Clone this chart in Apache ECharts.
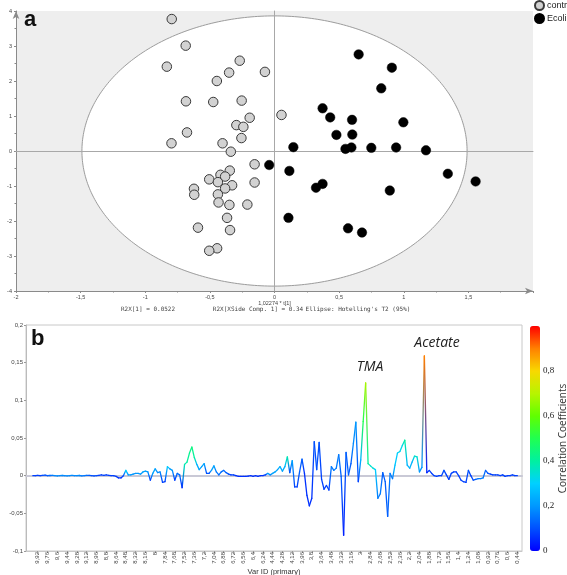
<!DOCTYPE html>
<html><head><meta charset="utf-8">
<script src="https://cdn.jsdelivr.net/npm/echarts@6/dist/echarts.min.js"></script>
<style>html,body{margin:0;padding:0;background:#fff}#c{width:567px;height:575px}</style>
</head><body><div id="c"></div><script>
// ---------- Panel a: score plot ----------
const controlPoints = [
 [-0.795,3.77],[-0.687,3.01],[-0.833,2.41],[-0.269,2.58],[-0.351,2.24],[-0.074,2.26],[-0.446,2.00],
 [-0.685,1.42],[-0.474,1.40],[-0.254,1.44],[0.054,1.03],[-0.192,0.95],[-0.295,0.74],[-0.241,0.69],
 [-0.677,0.53],[-0.256,0.37],[-0.797,0.22],[-0.402,0.22],[-0.338,-0.02],[-0.154,-0.38],[-0.346,-0.56],
 [-0.418,-0.68],[-0.382,-0.73],[-0.505,-0.81],[-0.438,-0.89],[-0.154,-0.90],[-0.328,-0.98],[-0.382,-1.07],
 [-0.623,-1.08],[-0.621,-1.25],[-0.438,-1.24],[-0.433,-1.47],[-0.349,-1.54],[-0.210,-1.53],[-0.367,-1.91],
 [-0.592,-2.19],[-0.344,-2.26],[-0.444,-2.78],[-0.505,-2.85]
];
const ecoliPoints = [
 [0.651,2.76],[0.908,2.38],[0.826,1.79],[0.372,1.22],[0.431,0.96],[0.600,0.89],[0.997,0.82],
 [0.479,0.46],[0.602,0.47],[0.146,0.11],[0.549,0.06],[0.595,0.10],[0.749,0.09],[0.941,0.10],
 [1.172,0.02],[-0.041,-0.40],[0.115,-0.57],[1.341,-0.65],[1.556,-0.87],[0.372,-0.94],[0.321,-1.05],
 [0.892,-1.13],[0.108,-1.91],[0.569,-2.21],[0.677,-2.33]
];
const ellipseAxes = [1.49, 3.86];   // Hotelling's T2 (95%) semi-axes
const scoreSeriesNames = ['contr', 'Ecoli'];
const statTexts = ['R2X[1] = 0.0522', 'R2X[XSide Comp. 1] = 0.34', "Ellipse: Hotelling's T2 (95%)"];

// ---------- Panel b: loading line ----------
const ppmLabels = ['9,92','9,76','9,6','9,44','9,28','9,12','8,96','8,8','8,64','8,48','8,32','8,16','8',
 '7,84','7,68','7,52','7,36','7,2','7,04','6,88','6,72','6,56','6,4','6,24','4,44','4,28','4,12','3,96',
 '3,8','3,64','3,48','3,32','3,16','3','2,84','2,68','2,52','2,36','2,2','2,04','1,88','1,72','1,56',
 '1,4','1,24','1,08','0,92','0,76','0,6','0,44'];
const firstLabelVar = 2, labelEvery = 4;
const pValues = [
 0.000,0.000,0.0005,0.000,0.0003,0.0008,0.000,0.0002,0.0005,0.000,
 -0.0003,0.000,0.0002,0.000,-0.0002,0.000,0.0003,0.000,0.000,0.0002,
 -0.0002,0.000,0.0005,0.0003,0.000,-0.0003,0.000,0.0005,0.001,0.0005,
 0.001,0.0005,0.000,0.000,-0.001,-0.003,-0.003,0.000,0.007,0.001,
 0.001,0.002,0.003,0.003,0.002,0.005,0.006,0.005,-0.006,0.003,
 0.009,0.004,0.005,-0.009,-0.008,0.012,0.009,0.007,-0.006,0.003,
 0.001,-0.016,0.015,0.018,0.030,0.038,0.024,0.015,0.008,0.012,
 0.016,0.003,0.003,0.007,0.013,0.005,0.001,0.005,0.007,0.004,
 0.002,0.001,0.001,0.000,-0.001,-0.001,-0.001,-0.001,-0.0005,0.000,
 -0.001,0.000,-0.001,0.000,0.000,0.001,0.003,0.001,0.003,0.005,
 0.008,0.012,0.006,0.012,0.025,0.004,0.020,-0.015,-0.015,0.005,
 0.022,0.003,-0.026,-0.040,-0.030,0.045,0.008,0.044,-0.005,-0.018,
 -0.013,-0.019,0.012,0.007,0.010,0.028,-0.001,-0.079,0.031,0.001,
 0.016,0.043,0.071,-0.008,0.021,0.072,0.123,0.016,0.013,0.010,
 0.008,-0.030,-0.024,0.004,-0.008,-0.054,0.003,-0.004,0.014,0.030,
 0.032,0.040,0.047,0.014,0.010,0.018,0.026,0.025,0.005,0.011,
 0.159,0.004,0.007,0.003,0.000,-0.001,0.000,0.000,0.007,0.001,
 -0.005,0.003,0.005,0.005,0.000,-0.006,-0.008,-0.009,0.007,0.000,
 -0.006,-0.005,-0.004,-0.004,-0.003,0.007,0.003,0.002,0.001,0.001,
 0.001,0.000,0.001,-0.001,0.000,0.000,0.001,0.000,0.000
];
const corrValues = [
 0.08,0.08,0.08,0.08,0.10,0.10,0.12,0.14,0.16,0.18,
 0.18,0.18,0.18,0.18,0.18,0.18,0.18,0.18,0.18,0.18,
 0.16,0.16,0.14,0.12,0.10,0.10,0.10,0.08,0.08,0.08,
 0.08,0.08,0.08,0.08,0.08,0.06,0.06,0.10,0.30,0.20,
 0.20,0.20,0.20,0.20,0.20,0.22,0.22,0.20,0.08,0.22,
 0.22,0.18,0.18,0.08,0.08,0.30,0.22,0.20,0.08,0.14,
 0.14,0.06,0.38,0.40,0.42,0.44,0.40,0.25,0.22,0.22,
 0.22,0.10,0.10,0.22,0.22,0.16,0.14,0.14,0.14,0.12,
 0.10,0.08,0.08,0.06,0.06,0.06,0.06,0.06,0.06,0.06,
 0.06,0.06,0.06,0.06,0.06,0.08,0.22,0.18,0.22,0.22,
 0.22,0.25,0.22,0.25,0.38,0.10,0.22,0.08,0.08,0.12,
 0.12,0.06,0.06,0.06,0.06,0.10,0.10,0.10,0.08,0.08,
 0.08,0.08,0.16,0.16,0.16,0.16,0.12,0.04,0.12,0.12,
 0.12,0.18,0.20,0.08,0.25,0.50,0.68,0.40,0.35,0.35,
 0.30,0.16,0.16,0.12,0.12,0.12,0.16,0.16,0.28,0.30,
 0.32,0.32,0.40,0.25,0.25,0.25,0.35,0.35,0.20,0.20,
 0.90,0.04,0.08,0.08,0.08,0.08,0.08,0.08,0.10,0.08,
 0.08,0.08,0.08,0.08,0.08,0.08,0.08,0.08,0.10,0.08,
 0.10,0.12,0.16,0.16,0.16,0.12,0.10,0.08,0.08,0.08,
 0.08,0.08,0.08,0.08,0.08,0.08,0.08,0.08,0.08
];
const corrColors = ['#0000ff','#0050ff','#0098ff','#00d0ff','#00f0a0','#20ff50','#60ff00','#b8f400','#f8d800','#ff8000','#ff0000'];
const peakNotes = [{text:'TMA', x:370, y:367}, {text:'Acetate', x:437, y:343}];

// ---------- helpers ----------
const comma = v => String(+(+v).toFixed(4)).replace('.', ',');
function hexRgb(h){return [parseInt(h.slice(1,3),16),parseInt(h.slice(3,5),16),parseInt(h.slice(5,7),16)];}
function colorAt(v){
  const t = Math.max(0, Math.min(1, v)) * (corrColors.length - 1);
  const i = Math.min(Math.floor(t), corrColors.length - 2), f = t - i;
  const a = hexRgb(corrColors[i]), b = hexRgb(corrColors[i+1]);
  return 'rgb(' + a.map((c,k)=>Math.round(c + (b[k]-c)*f)).join(',') + ')';
}
const segments = [];
for (let i = 0; i < pValues.length - 1; i++) segments.push([i, pValues[i], i+1, pValues[i+1], corrValues[i], corrValues[i+1]]);
const labelVars = ppmLabels.map((_, k) => firstLabelVar + k*labelEvery);

const tiny = {fontFamily:'Liberation Sans, Arial, sans-serif'};
const chart = echarts.init(document.getElementById('c'));
chart.setOption({
  animation:false,
  backgroundColor:'#fff',
  grid:[
    {left:16, right:34, top:11, bottom:284, show:true, backgroundColor:'#eeeeee', borderWidth:0, containLabel:false, outerBoundsMode:'none'},
    {left:26, right:45, top:325, bottom:24, show:true, backgroundColor:'#fff', borderColor:'#c8c8c8', borderWidth:1, containLabel:false, outerBoundsMode:'none'},
    {left:530, width:10, top:326, height:225, containLabel:false, outerBoundsMode:'none'}
  ],
  legend:{orient:'vertical', left:534, top:0, padding:0, itemGap:2, itemWidth:9, itemHeight:9,
    icon:'circle', data:scoreSeriesNames, textStyle:{fontSize:9, color:'#222', padding:[0,0,0,-2], ...tiny}},
  xAxis:[
    {gridIndex:0, type:'value', min:-2, max:2, interval:0.5,
     axisLine:{onZero:false, lineStyle:{color:'#8a8a8a'}, symbol:['none','arrow'], symbolSize:[5,8]},
     axisTick:{length:2, lineStyle:{color:'#8a8a8a'}}, minorTick:{show:true, splitNumber:2, length:1.5},
     splitLine:{show:false},
     axisLabel:{fontSize:5.5, color:'#444', margin:3, showMaxLabel:false, formatter:comma, ...tiny},
     name:'1,02274 * t[1]', nameLocation:'middle', nameGap:8, nameTextStyle:{fontSize:5.5, color:'#444', ...tiny}},
    {gridIndex:0, type:'value', min:-2, max:2, z:2,
     axisLine:{onZero:true, lineStyle:{color:'#a8a8a8'}}, axisTick:{show:false}, axisLabel:{show:false}, splitLine:{show:false}},
    {gridIndex:1, type:'value', min:-2.8, max:199.9,
     axisLine:{onZero:false, lineStyle:{color:'#c8c8c8'}},
     axisTick:{customValues:labelVars, length:2, lineStyle:{color:'#999'}},
     splitLine:{show:false},
     axisLabel:{customValues:labelVars, rotate:90, fontSize:6, color:'#444', margin:1,
       formatter:v => ppmLabels[Math.round((v - firstLabelVar)/labelEvery)], ...tiny},
     name:'Var ID (primary)', nameLocation:'middle', nameGap:12, nameTextStyle:{fontSize:7.5, color:'#333', ...tiny}},
    {gridIndex:1, type:'value', min:-2.8, max:199.9,
     axisLine:{onZero:true, lineStyle:{color:'#c9c9d6', width:2}}, axisTick:{show:false}, axisLabel:{show:false}, splitLine:{show:false}},
    {gridIndex:2, type:'value', min:0, max:1, show:false}
  ],
  yAxis:[
    {gridIndex:0, type:'value', min:-4, max:4, interval:1,
     axisLine:{onZero:false, lineStyle:{color:'#8a8a8a'}, symbol:['none','arrow'], symbolSize:[5,8]},
     axisTick:{length:2, lineStyle:{color:'#8a8a8a'}}, minorTick:{show:true, splitNumber:2, length:1.5},
     splitLine:{show:false},
     axisLabel:{fontSize:5.5, color:'#444', margin:4, formatter:comma, ...tiny},
     name:'1,26083 * to[1]', nameLocation:'middle', nameGap:8, nameTextStyle:{fontSize:5.5, color:'#444', ...tiny}},
    {gridIndex:0, type:'value', min:-4, max:4, z:2,
     axisLine:{onZero:true, lineStyle:{color:'#a8a8a8'}}, axisTick:{show:false}, axisLabel:{show:false}, splitLine:{show:false}},
    {gridIndex:1, type:'value', min:-0.1, max:0.2, interval:0.05,
     axisLine:{show:true, onZero:false, lineStyle:{color:'#bbb'}},
     axisTick:{show:true, length:2, lineStyle:{color:'#999'}}, splitLine:{show:false},
     axisLabel:{fontSize:6, color:'#444', margin:3, formatter:comma, ...tiny},
     name:'p(ctr)[1]', nameLocation:'middle', nameGap:14, nameTextStyle:{fontSize:7.5, color:'#333', ...tiny}},
    {gridIndex:2, type:'value', min:0, max:1, interval:0.2, position:'right',
     axisLine:{show:false}, axisTick:{show:false}, splitLine:{show:false},
     axisLabel:{fontSize:9, color:'#222', margin:3, fontFamily:'Liberation Serif, serif',
       formatter:v => v >= 1 ? '' : comma(v)},
     name:'Correlation Coefficients', nameLocation:'middle', nameRotate:90, nameGap:15,
     nameTextStyle:{fontSize:10, color:'#333', fontFamily:'Open Sans, sans-serif'}}
  ],
  visualMap:[{type:'continuous', min:0, max:1, seriesIndex:3, dimension:4, show:true, calculable:false,
    left:530, top:326, itemWidth:10, itemHeight:225, padding:0, text:null, hoverLink:false,
    inRange:{color:corrColors}}],
  series:[
    {type:'custom', xAxisIndex:0, yAxisIndex:0, z:1, silent:true,
     data:[[0, 0, ellipseAxes[0], ellipseAxes[1]]],
     renderItem(params, api){
       const c = api.coord([api.value(0), api.value(1)]);
       const e = api.coord([api.value(0) + api.value(2), api.value(1) + api.value(3)]);
       const rx = e[0]-c[0], ry = c[1]-e[1], pts = [];
       for (let k = 0; k < 360; k++){ const t = k*Math.PI/180; pts.push([c[0]+rx*Math.cos(t), c[1]+ry*Math.sin(t)]); }
       return {type:'polygon', shape:{points:pts}, style:{fill:'#fff', stroke:'#9c9c9c', lineWidth:1}};
     }},
    {type:'scatter', name:scoreSeriesNames[0], xAxisIndex:0, yAxisIndex:0, z:3, data:controlPoints,
     symbol:'circle', symbolSize:9.5, itemStyle:{color:'#d2d2d2', borderColor:'#3a3a3a', borderWidth:1, opacity:1}},
    {type:'scatter', name:scoreSeriesNames[1], xAxisIndex:0, yAxisIndex:0, z:3, data:ecoliPoints,
     symbol:'circle', symbolSize:9.5, itemStyle:{color:'#000', borderColor:'#000', borderWidth:0.5, opacity:1}},
    {type:'custom', xAxisIndex:2, yAxisIndex:2, z:3, silent:true, data:segments,
     encode:{x:[0,2], y:[1,3]},
     renderItem(params, api){
       const p1 = api.coord([api.value(0), api.value(1)]);
       const p2 = api.coord([api.value(2), api.value(3)]);
       const grad = new echarts.graphic.LinearGradient(p1[0], p1[1], p2[0]+0.01, p2[1],
         [{offset:0, color:colorAt(api.value(4))}, {offset:1, color:colorAt(api.value(5))}], true);
       return {type:'line', shape:{x1:p1[0], y1:p1[1], x2:p2[0], y2:p2[1]},
         style:{stroke:grad, lineWidth:1.3, lineCap:'round'}};
     }}
  ],
  graphic:[
    {type:'text', style:{x:24, y:20, text:'a', font:'bold 22px Liberation Sans, Arial, sans-serif', fill:'#111', verticalAlign:'middle'}},
    {type:'text', style:{x:31, y:339, text:'b', font:'bold 22px Liberation Sans, Arial, sans-serif', fill:'#111', verticalAlign:'middle'}},
    {type:'text', style:{x:148, y:309, text:statTexts[0], font:'6px DejaVu Sans Mono, monospace', fill:'#444', align:'center', verticalAlign:'middle'}},
    {type:'text', style:{x:258, y:309, text:statTexts[1], font:'6px DejaVu Sans Mono, monospace', fill:'#444', align:'center', verticalAlign:'middle'}},
    {type:'text', style:{x:358, y:309, text:statTexts[2], font:'6px DejaVu Sans Mono, monospace', fill:'#444', align:'center', verticalAlign:'middle'}},
    ...peakNotes.map(n => ({type:'text', style:{x:n.x, y:n.y, text:n.text, font:'italic 14px Open Sans, sans-serif', fill:'#222', align:'center', verticalAlign:'middle'}}))
  ]
});
</script></body></html>
